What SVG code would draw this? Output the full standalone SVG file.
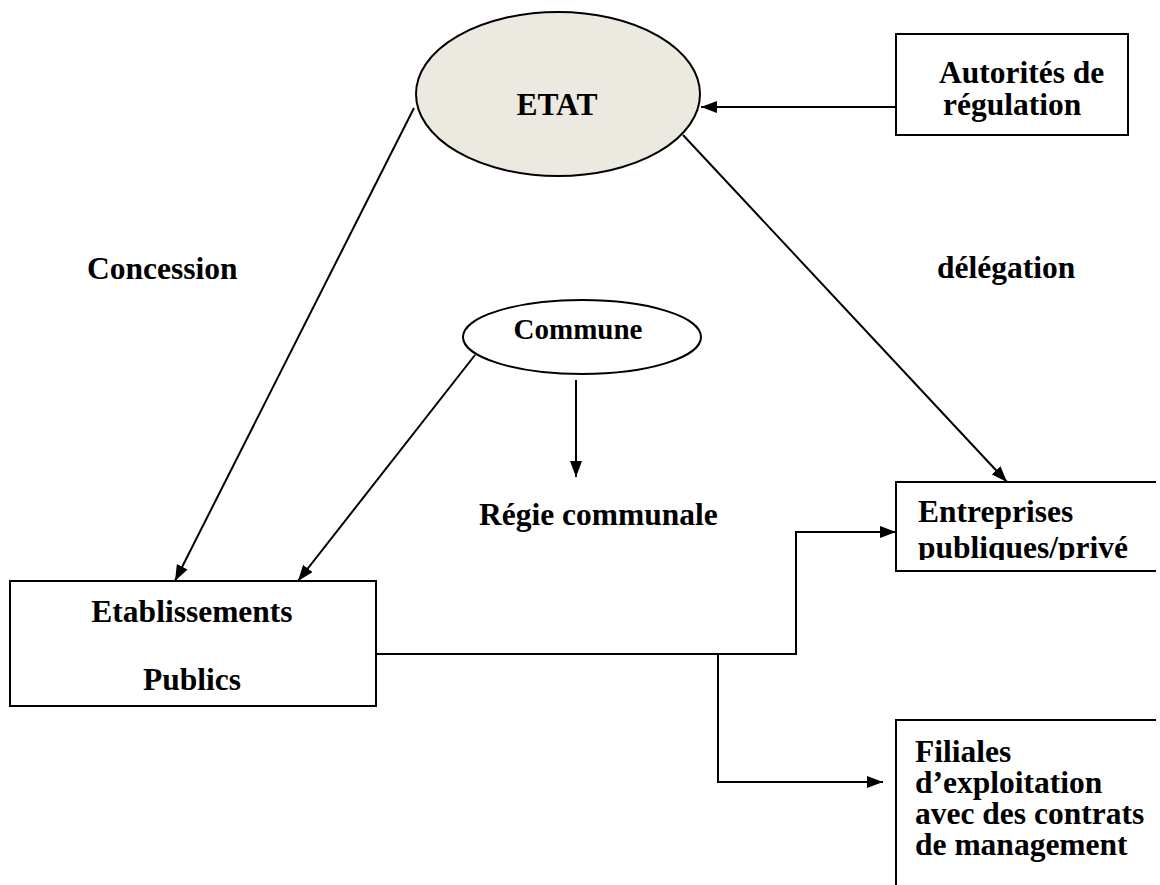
<svg xmlns="http://www.w3.org/2000/svg" width="1160" height="885" viewBox="0 0 1160 885">
  <style>
    .lbl { font-family: "Liberation Serif", "Times New Roman", serif; font-weight: bold; font-size: 31.5px; fill: #000; }
    .box { fill: #fff; stroke: #000; stroke-width: 2; }
    .edge { fill: none; stroke: #000; stroke-width: 2; }
    .arr { marker-end: url(#head); }
  </style>
  <defs>
    <marker id="head" viewBox="0 0 16 12" refX="16" refY="6" markerWidth="16" markerHeight="12" markerUnits="userSpaceOnUse" orient="auto">
      <path d="M0,0 L16,6 L0,12 Z" fill="#000"/>
    </marker>
    <clipPath id="entClip">
      <rect x="896" y="482" width="260" height="78"/>
    </clipPath>
  </defs>

  <rect width="1160" height="885" fill="#fff"/>

  <g id="edges">
    <!-- Autorités de régulation -> ETAT -->
    <line class="edge arr" x1="896" y1="107" x2="701" y2="107"/>
    <!-- ETAT -> Etablissements (concession) -->
    <line class="edge arr" x1="414" y1="108" x2="175" y2="581"/>
    <!-- ETAT -> Entreprises (délégation) -->
    <line class="edge arr" x1="683" y1="135" x2="1007" y2="482"/>
    <!-- Commune -> Etablissements -->
    <line class="edge arr" x1="475" y1="355" x2="298" y2="581"/>
    <!-- Commune -> Régie communale -->
    <line class="edge arr" x1="576" y1="380" x2="576" y2="477"/>
    <!-- Etablissements -> Entreprises -->
    <polyline class="edge arr" points="376,654 796,654 796,532 896,532"/>
    <!-- Etablissements -> Filiales -->
    <polyline class="edge arr" points="718,654 718,782 883,782"/>
  </g>

  <g id="etat">
    <ellipse cx="558" cy="94" rx="142" ry="82" fill="#ECEAE0" stroke="#000" stroke-width="2"/>
    <text class="lbl" x="557" y="115" text-anchor="middle">ETAT</text>
  </g>

  <g id="autorites">
    <rect class="box" x="896" y="34" width="232" height="101"/>
    <text class="lbl" x="939" y="83">Autorités de</text>
    <text class="lbl" x="943" y="115">régulation</text>
  </g>

  <g id="commune">
    <ellipse cx="582" cy="337" rx="119" ry="37" fill="#fff" stroke="#000" stroke-width="2"/>
    <text class="lbl" x="578" y="339" text-anchor="middle" style="font-size:29px">Commune</text>
  </g>

  <g id="concession">
    <text class="lbl" x="87" y="279">Concession</text>
  </g>

  <g id="delegation">
    <text class="lbl" x="937" y="278">délégation</text>
  </g>

  <g id="regie">
    <text class="lbl" x="479" y="525">Régie communale</text>
  </g>

  <g id="etablissements">
    <rect class="box" x="10" y="581" width="366" height="125"/>
    <text class="lbl" x="192" y="622" text-anchor="middle">Etablissements</text>
    <text class="lbl" x="192" y="690" text-anchor="middle">Publics</text>
  </g>

  <g id="entreprises">
    <path class="box" d="M1156,482 H896 V571 H1156"/>
    <g clip-path="url(#entClip)">
      <text class="lbl" x="918" y="522">Entreprises</text>
      <text class="lbl" x="918" y="558">publiques/privé</text>
    </g>
  </g>

  <g id="filiales">
    <path class="box" d="M1156,720 H896 V885"/>
    <text class="lbl" x="915" y="762">Filiales</text>
    <text class="lbl" x="915" y="793">d’exploitation</text>
    <text class="lbl" x="915" y="824">avec des contrats</text>
    <text class="lbl" x="915" y="855">de management</text>
  </g>
</svg>
